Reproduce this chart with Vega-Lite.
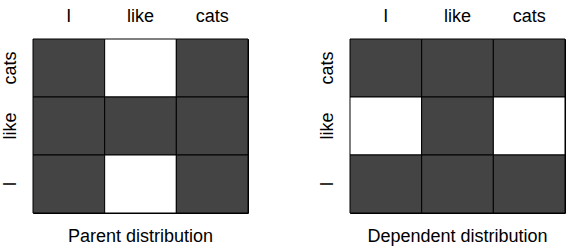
{
  "$schema": "https://vega.github.io/schema/vega-lite/v6.json",
  "autosize": {"type": "pad"},
  "padding": {"left": 0, "top": 6, "right": 5, "bottom": 3},
  "spacing": 68,
  "config": {
    "font": "Liberation Sans",
    "view": {"stroke": "black", "strokeWidth": 1},
    "axis": {"labelFont": "Liberation Sans", "labelFontSize": 18, "labelColor": "black", "ticks": false, "domain": false, "grid": false, "title": null},
    "title": {"font": "Liberation Sans", "fontSize": 18, "fontWeight": "normal", "color": "black"}
  },
  "data": {"values": [
    {"panel": "Parent", "x": "I", "y": "cats", "v": "dark"},
    {"panel": "Parent", "x": "like", "y": "cats", "v": "white"},
    {"panel": "Parent", "x": "cats", "y": "cats", "v": "dark"},
    {"panel": "Parent", "x": "I", "y": "like", "v": "dark"},
    {"panel": "Parent", "x": "like", "y": "like", "v": "dark"},
    {"panel": "Parent", "x": "cats", "y": "like", "v": "dark"},
    {"panel": "Parent", "x": "I", "y": "I", "v": "dark"},
    {"panel": "Parent", "x": "like", "y": "I", "v": "white"},
    {"panel": "Parent", "x": "cats", "y": "I", "v": "dark"},
    {"panel": "Dependent", "x": "I", "y": "cats", "v": "dark"},
    {"panel": "Dependent", "x": "like", "y": "cats", "v": "dark"},
    {"panel": "Dependent", "x": "cats", "y": "cats", "v": "dark"},
    {"panel": "Dependent", "x": "I", "y": "like", "v": "white"},
    {"panel": "Dependent", "x": "like", "y": "like", "v": "dark"},
    {"panel": "Dependent", "x": "cats", "y": "like", "v": "white"},
    {"panel": "Dependent", "x": "I", "y": "I", "v": "dark"},
    {"panel": "Dependent", "x": "like", "y": "I", "v": "dark"},
    {"panel": "Dependent", "x": "cats", "y": "I", "v": "dark"}
  ]},
  "hconcat": [
    {
      "width": 215,
      "height": 174,
      "title": {"text": "Parent distribution", "orient": "bottom", "offset": 14},
      "transform": [{"filter": "datum.panel === 'Parent'"}],
      "mark": {"type": "rect", "stroke": "black", "strokeWidth": 1},
      "encoding": {
        "x": {"field": "x", "type": "nominal", "sort": ["I", "like", "cats"], "scale": {"paddingInner": 0, "paddingOuter": 0}, "axis": {"orient": "top", "labelAngle": 0, "labelPadding": 14}},
        "y": {"field": "y", "type": "nominal", "sort": ["cats", "like", "I"], "scale": {"paddingInner": 0, "paddingOuter": 0}, "axis": {"labelAngle": -90, "labelPadding": 14}},
        "color": {"field": "v", "type": "nominal", "scale": {"domain": ["dark", "white"], "range": ["#444444", "#ffffff"]}, "legend": null}
      }
    },
    {
      "width": 215,
      "height": 174,
      "title": {"text": "Dependent distribution", "orient": "bottom", "offset": 14},
      "transform": [{"filter": "datum.panel === 'Dependent'"}],
      "mark": {"type": "rect", "stroke": "black", "strokeWidth": 1},
      "encoding": {
        "x": {"field": "x", "type": "nominal", "sort": ["I", "like", "cats"], "scale": {"paddingInner": 0, "paddingOuter": 0}, "axis": {"orient": "top", "labelAngle": 0, "labelPadding": 14}},
        "y": {"field": "y", "type": "nominal", "sort": ["cats", "like", "I"], "scale": {"paddingInner": 0, "paddingOuter": 0}, "axis": {"labelAngle": -90, "labelPadding": 14}},
        "color": {"field": "v", "type": "nominal", "scale": {"domain": ["dark", "white"], "range": ["#444444", "#ffffff"]}, "legend": null}
      }
    }
  ]
}
